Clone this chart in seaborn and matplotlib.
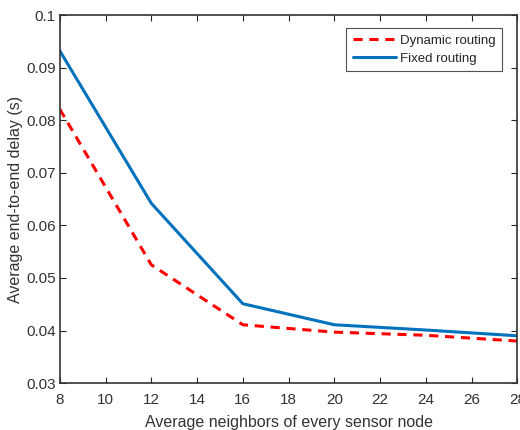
import matplotlib
matplotlib.use("Agg")
import matplotlib.pyplot as plt
import seaborn as sns
import pandas as pd

neighbors = [8, 12, 16, 20, 24, 28]
dynamic_delay = [0.0821, 0.0525, 0.0411, 0.0397, 0.0391, 0.0380]
fixed_delay = [0.0932, 0.0642, 0.0451, 0.0411, 0.0401, 0.0390]
series_names = ["Dynamic routing", "Fixed routing"]
x_ticks = list(range(8, 29, 2))
y_ticks = [0.03, 0.04, 0.05, 0.06, 0.07, 0.08, 0.09, 0.1]

sns.set_theme(style="white")
plt.rcParams['font.family'] = ['Liberation Sans', 'DejaVu Sans']

df = pd.DataFrame({
    "x": neighbors * 2,
    "y": dynamic_delay + fixed_delay,
    "series": [series_names[0]] * len(neighbors) + [series_names[1]] * len(neighbors),
})

fig = plt.figure(figsize=(5.2, 4.3), dpi=100)
ax = fig.add_axes([0.115, 0.109, 0.880, 0.856])

sns.lineplot(data=df, x="x", y="y", hue="series", style="series",
             palette={series_names[0]: "#FF0000", series_names[1]: "#0072BD"},
             dashes={series_names[0]: (3, 2.2), series_names[1]: ""},
             linewidth=2.2, ax=ax)

ax.set_xlim(8, 28)
ax.set_ylim(0.03, 0.1)
ax.set_xticks(x_ticks)
ax.set_yticks(y_ticks)
ax.set_yticklabels([f"{v:g}" for v in y_ticks])
ax.tick_params(direction="in", length=4, width=0.8, colors="#262626",
               labelsize=11, top=True, right=True, bottom=True, left=True,
               labelcolor="#333333")
ax.tick_params(axis="x", pad=7)
ax.tick_params(axis="y", pad=3)
for s in ax.spines.values():
    s.set_color("#333333")
    s.set_linewidth(1.2)
ax.set_xlabel("Average neighbors of every sensor node", fontsize=11.5, color="#333333", labelpad=6)
ax.set_ylabel("Average end-to-end delay (s)", fontsize=11.5, color="#333333", labelpad=2)

leg = ax.legend(loc="upper right", bbox_to_anchor=(0.975, 0.975), fontsize=9.5,
                frameon=True, fancybox=False, edgecolor="#262626",
                handlelength=3.3, handletextpad=0.25, borderpad=0.5,
                labelspacing=0.4, borderaxespad=0.3)
leg.get_frame().set_linewidth(0.8)
leg.set_title(None)

fig.savefig("out.png", dpi=100)
